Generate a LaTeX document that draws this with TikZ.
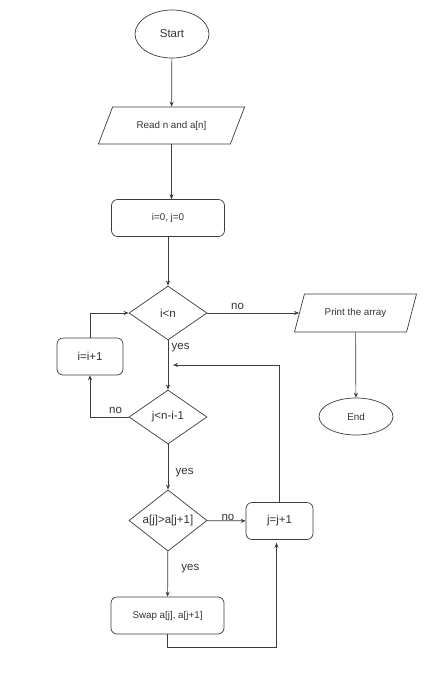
\documentclass[tikz,border=0pt]{standalone}
\usepackage{fontspec}
\setmainfont{Liberation Sans}
\usetikzlibrary{shapes.geometric,arrows.meta}
\definecolor{linegray}{HTML}{3C3C3C}
\definecolor{textgray}{HTML}{333333}
\newcommand{\smalltxt}{\fontsize{9.8}{12}\selectfont}
\newcommand{\bigtxt}{\fontsize{11.5}{13}\selectfont}
\tikzset{node distance=2cm, auto,
  >={Stealth[length=5pt,width=4pt]},
  startstop/.style={ellipse, draw, inner sep=0pt, minimum width=74pt, minimum height=48pt, font=\bigtxt},
  io/.style={trapezium, draw, inner sep=0pt, trapezium stretches=true, font=\smalltxt},
  process/.style={rectangle, rounded corners=6pt, draw, inner sep=0pt, minimum width=113pt, minimum height=37pt, font=\smalltxt},
  decision/.style={diamond, draw, inner sep=0pt, minimum width=78pt, minimum height=54pt, font=\bigtxt},
  lbl/.style={font=\bigtxt}}

\begin{document}
\begin{tikzpicture}[x=1pt, y=-1pt, line width=0.7pt, color=linegray, text=textgray]
  \useasboundingbox (0,0) rectangle (445,689);

             \node (start) [startstop] at (172,34) {Start};
             \node (read) [io, trapezium left angle=47.4, trapezium right angle=132.6,
                           minimum width=147pt, minimum height=37pt] at (171.5,125.5) {Read n and a[n]};
             \node (init) [process] at (168,218) {i=0, j=0};

             \node (iltn) [decision] at (168,313) {i<n};
             \node (print) [io, trapezium left angle=56.7, trapezium right angle=123.3,
                            minimum width=123pt, minimum height=38pt] at (355.5,313) {Print the array};
             \node (end) [startstop, font=\smalltxt, minimum height=37pt] at (356,416.5) {End};

             \node (incri) [process, font=\bigtxt, minimum width=66pt] at (90,356.5) {i=i+1};
             \node (jlt) [decision] at (168,417) {j<n-i-1};

             \node (cmp) [decision] at (168,520.5) {a[j]>a[j+1]};
             \node (incrj) [process, font=\bigtxt, minimum width=67pt] at (279.5,521) {j=j+1};
             \node (exch) [process] at (167.5,615.5) {Swap a[j], a[j+1]};

             \coordinate (back) at (173,365);
             \coordinate (low) at (167.5,647);

             \draw [->] (start) to (read);
             \draw [->] (read.south) to (read.south |- init.north);
             \draw [->] (init) to (iltn);

             \draw [->] (iltn) to node [lbl, pos=0.33] {no} (print);
             \draw [->] (print) to (end);

             \draw [->] (iltn) to node [lbl, pos=0.14] {yes} (jlt);
             \draw [->] (jlt.west) -| node [lbl, swap, pos=0.17] {no} (incri.south);
             \draw [->] (incri.north) |- (iltn.west);

             \draw [->] (jlt) to node [lbl, pos=0.63, xshift=4pt] {yes} (cmp);
             \draw [->] (cmp) to node [lbl, pos=0.54, inner sep=0pt] {no} (incrj);
             \draw [->] (cmp) to node [lbl, pos=0.39, xshift=10pt] {yes} (exch);

             \draw [->] (incrj.north) |- (back);
             \draw [->, shorten >=3pt] (exch.south) -- (low) -| ([xshift=-3pt]incrj.south);
\end{tikzpicture}
\end{document}
